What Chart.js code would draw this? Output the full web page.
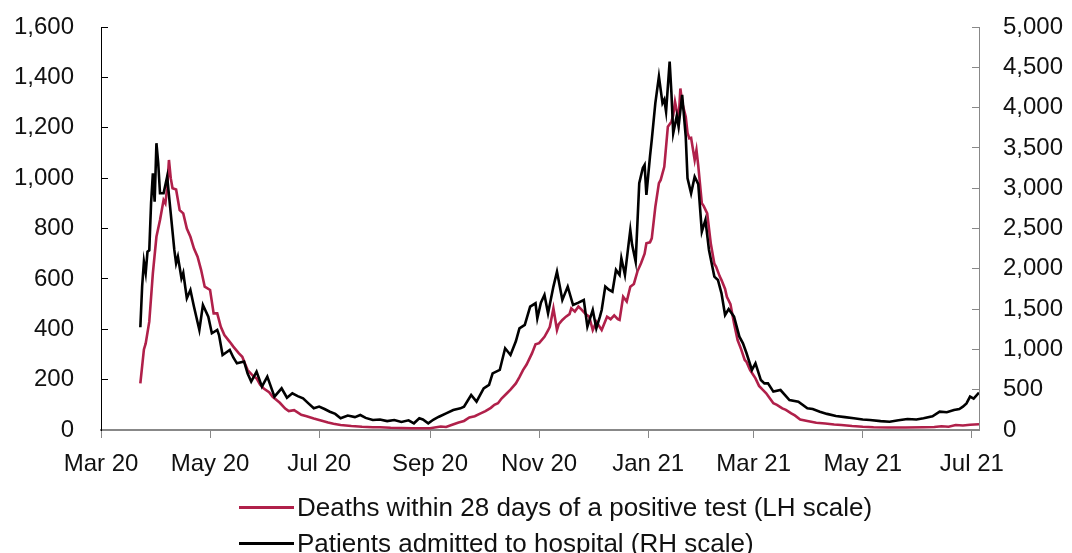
<!DOCTYPE html>
<html>
<head>
<meta charset="utf-8">
<script src="https://cdn.jsdelivr.net/npm/chart.js@4/dist/chart.umd.min.js"></script>
<style>
  html, body { margin: 0; padding: 0; background: #fff; overflow: hidden; }
  #wrap { position: relative; width: 1072px; height: 553px; overflow: hidden; }
  #c { position: absolute; left: 0; top: 0; }
  .lg { position: absolute; left: 239px; height: 36px; display: flex; align-items: center;
        font-family: "Liberation Sans", Arial, sans-serif; font-size: 26px; color: #111; white-space: nowrap; }
  .lg .ln { width: 55px; height: 3px; margin-right: 3px; }
</style>
</head>
<body>
<div id="wrap">
  <canvas id="c" width="1072" height="553"></canvas>
  <div class="lg" style="top:489px"><span class="ln" style="background:#b0204a"></span><span id="lg1"></span></div>
  <div class="lg" style="top:525px"><span class="ln" style="background:#000"></span><span id="lg2"></span></div>
</div>
<script>
// x = days since 1 Mar 2020
const tickDays = [0, 61, 122, 184, 245, 306, 365, 426, 487];
const tickLabels = ['Mar 20', 'May 20', 'Jul 20', 'Sep 20', 'Nov 20', 'Jan 21', 'Mar 21', 'May 21', 'Jul 21'];
const leftTicks = [0, 200, 400, 600, 800, 1000, 1200, 1400, 1600];
const rightTicks = [0, 500, 1000, 1500, 2000, 2500, 3000, 3500, 4000, 4500, 5000];
const seriesNames = ['Deaths within 28 days of a positive test (LH scale)', 'Patients admitted to hospital (RH scale)'];

const deathDays = [22,24,25,27,29,31,33,35,36,37,38,39,40,42,44,46,48,50,52,54,56,58,61,63,65,67,69,72,74,77,79,81,82,85,87,89,91,94,96,98,100,103,105,108,112,115,119,123,127,130,134,140,146,152,156,162,168,174,180,184,190,193,196,200,203,206,209,212,215,218,220,222,224,227,229,232,234,236,238,241,243,245,248,250,251,253,255,256,258,260,262,263,265,267,269,271,273,275,277,280,283,285,287,289,290,292,294,296,298,300,302,304,305,307,308,310,312,313,315,317,319,320,321,323,324,325,327,328,329,330,332,333,334,336,337,339,341,343,344,346,347,349,350,352,354,356,358,360,361,363,366,368,370,372,374,376,378,381,383,386,388,391,395,400,405,410,414,420,426,432,440,450,460,466,470,474,478,482,486,491];
const deathVals = [185,320,344,430,622,767,834,913,900,960,1072,1000,960,955,873,860,800,767,720,688,635,569,556,463,463,410,377,350,331,305,291,255,238,215,205,180,165,150,132,120,108,85,75,79,60,55,46,38,30,25,20,16,13,11,11,9,8,7,7,7,14,12,20,30,36,50,55,65,75,88,100,106,125,146,160,185,210,238,260,304,340,345,370,395,410,483,397,420,437,450,460,483,470,490,476,460,450,397,430,397,450,440,455,440,437,529,510,569,580,630,662,700,741,745,761,886,980,993,1045,1204,1224,1250,1303,1230,1356,1300,1244,1180,1158,1160,1072,1112,1050,900,890,860,741,660,648,610,595,560,529,500,424,357,320,278,270,238,205,175,160,146,126,106,100,86,80,66,58,42,36,29,26,22,20,16,13,11,10,10,11,12,15,13,20,18,21,23];

const admitDays = [22,23,24,25,26,27,28,29,30,31,32,33,35,37,39,41,42,43,45,46,48,50,52,55,57,60,62,65,66,68,72,74,76,80,82,84,87,90,93,97,101,104,107,110,113,116,119,122,125,128,131,134,138,142,145,148,152,156,160,164,168,172,175,178,180,183,186,189,193,197,201,203,207,210,214,217,219,223,226,229,232,234,237,240,243,244,246,248,250,253,255,256,258,261,264,267,270,272,274,275,277,279,280,282,284,286,288,290,291,293,295,296,297,299,301,303,304,305,307,308,310,312,314,315,316,318,319,320,322,323,325,327,328,330,332,334,336,338,340,343,345,347,349,351,354,357,359,360,361,364,366,369,371,373,376,380,385,390,395,398,402,406,411,416,421,426,430,436,441,446,451,456,460,465,469,473,477,480,482,484,486,488,491];
const admitVals = [1275,1779,2089,1948,2213,2230,2813,3186,2833,3558,3310,2937,2937,3143,2689,2234,2068,2151,1882,1950,1634,1737,1530,1241,1551,1406,1200,1241,1179,931,993,900,827,850,700,600,724,538,662,414,517,400,455,420,393,330,269,290,260,227,200,145,180,160,186,150,124,130,110,124,100,120,83,145,130,83,130,165,207,248,269,290,434,352,517,560,703,745,1014,931,1100,1262,1303,1530,1572,1386,1580,1675,1448,1779,1965,1850,1613,1779,1551,1580,1613,1282,1420,1489,1260,1406,1489,1779,1740,1716,1986,1924,2131,1924,2300,2482,2300,2089,3062,3250,3289,2917,3392,3600,4055,4385,4055,4100,3950,4571,4179,3682,3900,3764,4157,3640,3124,2937,3143,3050,2461,2606,2234,1903,1862,1696,1427,1500,1406,1158,1076,1014,952,745,828,620,579,579,476,496,372,352,269,260,227,200,174,160,145,130,124,110,103,120,136,130,145,170,227,220,248,260,290,330,414,390,463];

document.getElementById('lg1').textContent = seriesNames[0];
document.getElementById('lg2').textContent = seriesNames[1];

const toPts = (d, v) => d.map((x, i) => ({ x: x, y: v[i] }));
const tickFont = { family: '"Liberation Sans", Arial, sans-serif', size: 24 };
const fmt = v => Number(v).toLocaleString('en-US');
const fitY = w => s => { s.width = w; s.paddingTop = 0; s.paddingBottom = 0; };

new Chart(document.getElementById('c'), {
  type: 'line',
  data: {
    datasets: [
      { label: seriesNames[1], data: toPts(admitDays, admitVals), yAxisID: 'y1',
        borderColor: '#000000', backgroundColor: '#000000', borderWidth: 2.6, pointRadius: 0, tension: 0 },
      { label: seriesNames[0], data: toPts(deathDays, deathVals), yAxisID: 'y',
        borderColor: '#b0204a', backgroundColor: '#b0204a', borderWidth: 2.6, pointRadius: 0, tension: 0 }
    ]
  },
  options: {
    responsive: false,
    animation: false,
    devicePixelRatio: 1,
    layout: { padding: { top: 27, left: 0, right: 0, bottom: 0 } },
    plugins: { legend: { display: false }, tooltip: { enabled: false } },
    scales: {
      x: {
        type: 'linear', min: 0, max: 491, position: 'bottom',
        afterBuildTicks: s => { s.ticks = tickDays.map(v => ({ value: v })); },
        afterFit: s => { s.height = 123; },
        ticks: { callback: (v, i) => tickLabels[i], font: tickFont, color: '#111', padding: 12, maxRotation: 0, autoSkip: false },
        grid: { drawOnChartArea: false, tickLength: 8, color: '#888', lineWidth: 1 },
        border: { color: '#888', width: 2 }
      },
      y: {
        position: 'left', min: 0, max: 1600,
        afterBuildTicks: s => { s.ticks = leftTicks.map(v => ({ value: v })); },
        afterFit: fitY(101),
        ticks: { callback: v => fmt(v), font: tickFont, color: '#111', padding: 34 },
        grid: { drawOnChartArea: false, tickLength: -7, color: '#000', lineWidth: 1 },
        border: { color: '#000', width: 1 }
      },
      y1: {
        position: 'right', min: 0, max: 5000,
        afterBuildTicks: s => { s.ticks = rightTicks.map(v => ({ value: v })); },
        afterFit: fitY(93),
        ticks: { callback: v => fmt(v), font: tickFont, color: '#111', padding: 31 },
        grid: { drawOnChartArea: false, tickLength: -7, color: '#888', lineWidth: 1 },
        border: { color: '#888', width: 1 }
      }
    }
  }
});
</script>
</body>
</html>
